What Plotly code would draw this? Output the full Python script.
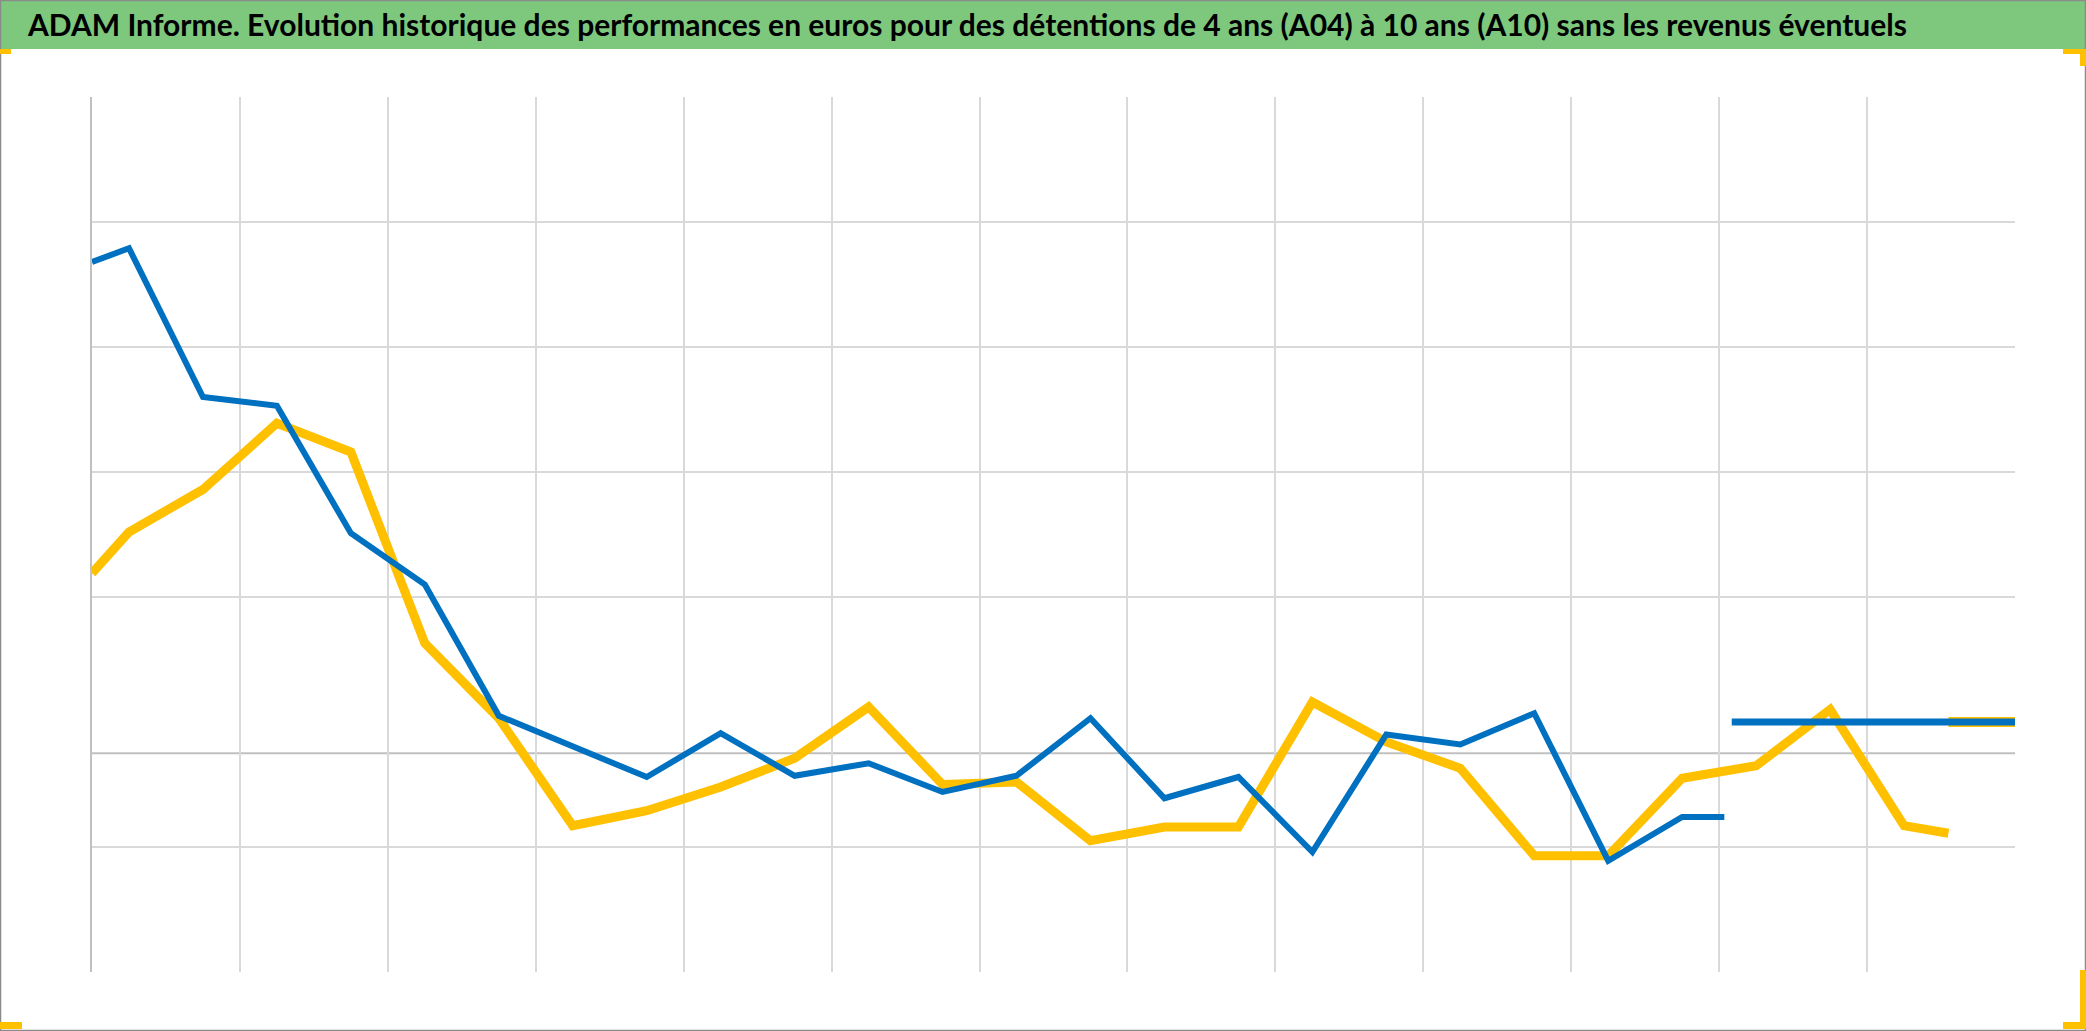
import plotly.graph_objects as go

# ---------------- data ----------------
# x in half-grid units (gridline every 2 units), y in grid units
blue_x = [0, 0.5, 1.5, 2.5, 3.5, 4.5, 5.5, 6.5, 7.5, 8.5, 9.5, 10.5, 11.5, 12.5,
          13.5, 14.5, 15.5, 16.5, 17.5, 18.5, 19.5, 20.5, 21.5, 22.07]
blue_y = [5.68, 5.79, 4.60, 4.53, 3.51, 3.10, 2.05, 1.80, 1.56, 1.91, 1.57, 1.67, 1.44, 1.57,
          2.03, 1.39, 1.56, 0.96, 1.90, 1.82, 2.07, 0.89, 1.24, 1.24]

yellow_x = [0, 0.5, 1.5, 2.5, 3.5, 4.5, 5.5, 6.5, 7.5, 8.5, 9.5, 10.5, 11.5, 12.5,
            13.5, 14.5, 15.5, 16.5, 17.5, 18.5, 19.5, 20.5, 21.5, 22.5, 23.5, 24.5, 25.1]
yellow_y = [3.19, 3.52, 3.86, 4.39, 4.16, 2.63, 2.03, 1.17, 1.29, 1.48, 1.71, 2.12, 1.50, 1.52,
            1.05, 1.16, 1.16, 2.16, 1.84, 1.63, 0.93, 0.93, 1.55, 1.65, 2.10, 1.17, 1.11]

blue_flat_x = [22.17, 26]
blue_flat_y = [2.0, 2.0]
yellow_flat_x = [25.1, 26]
yellow_flat_y = [2.0, 2.0]

x_grid = list(range(0, 27, 2))
y_grid = [0, 1, 3, 4, 5, 6, 7]
axis_cross = 1.75

title_text = ("ADAM Informe. Evolution historique des performances en euros pour des "
              "détentions de 4 ans (A04) à 10 ans (A10) sans les revenus éventuels")

# ---------------- layout geometry ----------------
W, H = 2086, 1031
L, R, T, B = 92, 2015, 97, 972


def px(xp):
    return (xp - L) / (R - L)


def py(yp):
    return (B - yp) / (B - T)


BLUE = "#0070C0"
YELLOW = "#FFC000"

fig = go.Figure()
fig.add_trace(go.Scatter(x=yellow_flat_x, y=yellow_flat_y, mode="lines",
                         line=dict(color=YELLOW, width=10), hoverinfo="skip", showlegend=False))
fig.add_trace(go.Scatter(x=yellow_x, y=yellow_y, mode="lines",
                         line=dict(color=YELLOW, width=9), showlegend=False))
fig.add_trace(go.Scatter(x=blue_x, y=blue_y, mode="lines",
                         line=dict(color=BLUE, width=6), showlegend=False))
fig.add_trace(go.Scatter(x=blue_flat_x, y=blue_flat_y, mode="lines",
                         line=dict(color=BLUE, width=7), showlegend=False))

shapes = []
# horizontal axis crossing line
shapes.append(dict(type="line", xref="x", yref="y", x0=0, x1=26, y0=axis_cross, y1=axis_cross,
                   line=dict(color="#c0c0c0", width=2), layer="below"))
# title bar
shapes.append(dict(type="rect", xref="paper", yref="paper", x0=px(0), x1=px(W), y0=py(49), y1=py(0),
                   fillcolor="#7DC87D", line=dict(width=0), layer="below"))
# outer border
shapes.append(dict(type="rect", xref="paper", yref="paper", x0=px(0.5), x1=px(W - 0.5),
                   y0=py(H - 0.5), y1=py(0.5), line=dict(color="#8a8a8a", width=1.5),
                   fillcolor="rgba(0,0,0,0)"))
# selection handles (orange)
handles = [(0, 49, 11, 54), (2063, 49, 2086, 54), (2080, 49, 2086, 66),
           (0, 1022, 22, 1029), (2063, 1022, 2086, 1029), (2080, 970, 2086, 1029)]
for (x0, y0, x1, y1) in handles:
    shapes.append(dict(type="rect", xref="paper", yref="paper", x0=px(x0), x1=px(x1),
                       y0=py(y1), y1=py(y0), fillcolor=YELLOW, line=dict(width=0)))

fig.update_layout(
    width=W, height=H,
    margin=dict(l=L, r=W - R, t=T, b=H - B),
    paper_bgcolor="white", plot_bgcolor="white",
    shapes=shapes,
    showlegend=False,
    annotations=[dict(text="<b>" + title_text + "</b>", xref="paper", yref="paper",
                      x=px(25), y=py(24), xanchor="left", yanchor="middle", showarrow=False,
                      font=dict(family="Lato, sans-serif", size=30, color="black"))],
    xaxis=dict(range=[0, 26], tickvals=x_grid, showticklabels=False, ticks="",
               showgrid=True, gridcolor="#d9d9d9", gridwidth=2, zeroline=False,
               showline=False, fixedrange=True),
    yaxis=dict(range=[0, 7], tickvals=y_grid, showticklabels=False, ticks="",
               showgrid=True, gridcolor="#d9d9d9", gridwidth=2, zeroline=False,
               showline=True, linecolor="#c0c0c0", linewidth=2, mirror=False, fixedrange=True),
)

fig.write_html("out.html", config={"displayModeBar": False},
               post_script="document.body.style.margin='0';document.body.style.overflow='hidden';")
